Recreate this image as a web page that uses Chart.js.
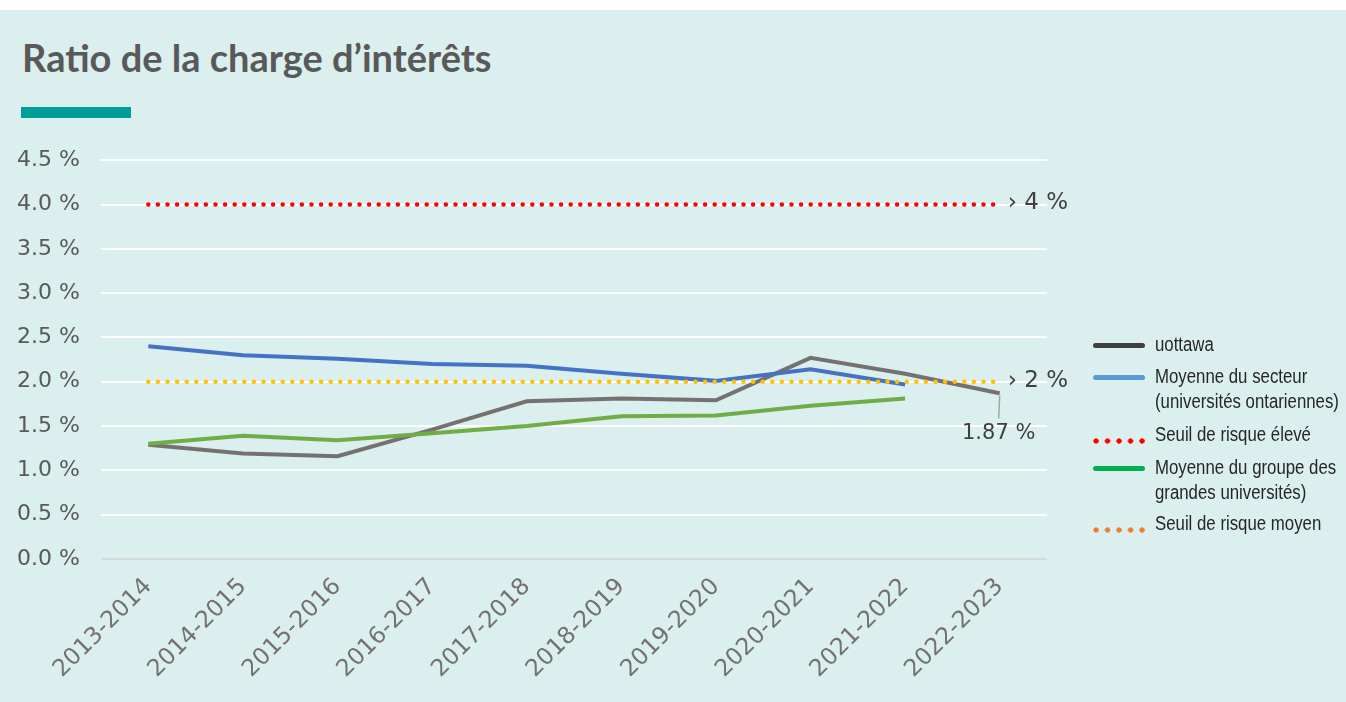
<!DOCTYPE html>
<html lang="fr">
<head>
<meta charset="utf-8">
<title>Ratio de la charge d'intérêts</title>
<script src="https://cdn.jsdelivr.net/npm/chart.js@4.4.1/dist/chart.umd.min.js"></script>
<style>
  html, body { margin: 0; padding: 0; background: #ffffff; overflow: hidden; }
  #panel {
    position: absolute; left: 0; top: 10px; width: 1346px; height: 692px;
    background: #daefee; overflow: hidden;
  }
  #title {
    position: absolute; left: 22px; top: 28px; margin: 0; line-height: 1;
    font-family: Lato, "Open Sans", sans-serif; font-weight: 700; font-size: 38px;
    color: #595959; white-space: nowrap;
  }
  #bar { position: absolute; left: 21px; top: 97px; width: 110px; height: 11px; background: #009e96; }
  #chart { position: absolute; left: 0; top: 116px; }
  .leg { position: absolute; left: 1155px; font-family: "Liberation Sans", Arial, sans-serif;
         font-size: 20px; line-height: 25px; color: #262626; white-space: nowrap;
         transform: scaleX(0.84); transform-origin: 0 0; }
  .sym { position: absolute; left: 1093px; width: 52px; }
  .solid { height: 5px; border-radius: 3px; }
  .dots { height: 6px; background-repeat: repeat-x; background-size: 11.5px 6px; }
</style>
</head>
<body>
<div id="panel">
  <h1 id="title">Ratio de la charge d’intérêts</h1>
  <div id="bar"></div>
  <canvas id="chart" width="1346" height="576"></canvas>
  <div id="legend"></div>
</div>
<script>
// categories and series
var years = ['2013-2014', '2014-2015', '2015-2016', '2016-2017', '2017-2018',
             '2018-2019', '2019-2020', '2020-2021', '2021-2022', '2022-2023'];
var uottawa = [1.29, 1.19, 1.16, 1.46, 1.78, 1.81, 1.79, 2.27, 2.09, 1.87];
var secteur = [2.40, 2.30, 2.26, 2.20, 2.18, 2.09, 2.01, 2.14, 1.97, null];
var grandes = [1.30, 1.39, 1.34, 1.42, 1.50, 1.61, 1.62, 1.73, 1.81, null];
var seuilEleve = [4, 4, 4, 4, 4, 4, 4, 4, 4, 4];
var seuilMoyen = [2, 2, 2, 2, 2, 2, 2, 2, 2, 2];
var yTicks = { min: 0, max: 4.5, step: 0.5 };
var thresholdLabels = [{ value: 4, text: '› 4 %' }, { value: 2, text: '› 2 %' }];
var lastLabel = '1.87 %';

var legendItems = [
    { text: 'uottawa', color: '#404040', dotted: false, top: 332 },
    { text: 'Moyenne du secteur<br>(universités ontariennes)', color: '#5b9bd5', dotted: false, top: 364 },
    { text: 'Seuil de risque élevé', color: '#ff0000', dotted: true, top: 422 },
    { text: 'Moyenne du groupe des<br>grandes universités)', color: '#00b050', dotted: false, top: 455 },
    { text: 'Seuil de risque moyen', color: '#ed7d31', dotted: true, top: 511 }
];

var tickFont = { family: '"DejaVu Sans", sans-serif', size: 22 };
var xFont = { family: '"DejaVu Sans", sans-serif', size: 23.5 };

// legend built by hand, like the original
var leg = document.getElementById('legend');
legendItems.forEach(function (d) {
    var t = document.createElement('div');
    t.className = 'leg';
    t.style.top = (d.top - 10) + 'px';
    t.innerHTML = d.text;
    leg.appendChild(t);
    var s = document.createElement('div');
    s.className = 'sym ' + (d.dotted ? 'dots' : 'solid');
    var cy = d.top - 10 + (d.dotted ? 19 : 14);
    s.style.top = (cy - 3) + 'px';
    if (d.dotted) {
        s.style.backgroundImage = 'radial-gradient(circle at 3px 3px, ' + d.color + ' 2.4px, transparent 2.9px)';
    } else {
        s.style.background = d.color;
    }
    leg.appendChild(s);
});

var annotations = {
    id: 'annotations',
    afterDatasetsDraw: function (chart) {
        var ctx = chart.ctx;
        var x = chart.scales.x, y = chart.scales.y;
        var lastX = x.getPixelForValue(years.length - 1);
        ctx.save();
        ctx.fillStyle = '#404040';
        ctx.font = '23px "DejaVu Sans", sans-serif';
        ctx.textBaseline = 'middle';
        ctx.textAlign = 'left';
        thresholdLabels.forEach(function (d) {
            ctx.fillText(d.text, lastX + 8, y.getPixelForValue(d.value) - 1);
        });
        // leader line + last value label
        var py = y.getPixelForValue(uottawa[uottawa.length - 1]);
        ctx.strokeStyle = '#a6a6a6';
        ctx.lineWidth = 1.5;
        ctx.beginPath();
        ctx.moveTo(lastX, py + 2);
        ctx.lineTo(lastX - 1, py + 25);
        ctx.stroke();
        ctx.font = '21px "DejaVu Sans", sans-serif';
        ctx.textAlign = 'center';
        ctx.fillText(lastLabel, lastX - 1, py + 40);
        ctx.restore();
    }
};

var chart = new Chart('chart', {
    type: 'line',
    plugins: [annotations],
    data: {
        labels: years,
        datasets: [
            { label: 'Seuil de risque moyen', data: seuilMoyen, borderColor: '#ffc000', borderWidth: 4.5,
              borderDash: [0, 9.6], borderCapStyle: 'round', pointRadius: 0 },
            { label: 'Seuil de risque élevé', data: seuilEleve, borderColor: '#ff0000', borderWidth: 4.5,
              borderDash: [0, 9.6], borderCapStyle: 'round', pointRadius: 0 },
            { label: 'Moyenne du groupe des grandes universités', data: grandes, borderColor: '#70ad47',
              borderWidth: 4, pointRadius: 0 },
            { label: 'Moyenne du secteur (universités ontariennes)', data: secteur, borderColor: '#4472c4',
              borderWidth: 4, pointRadius: 0 },
            { label: 'uottawa', data: uottawa, borderColor: '#767171', borderWidth: 4, pointRadius: 0 }
        ]
    },
    options: {
        responsive: false,
        devicePixelRatio: 1,
        animation: false,
        layout: { padding: { top: 15, right: 299, left: 0, bottom: 0 } },
        plugins: { legend: { display: false }, tooltip: { enabled: false } },
        scales: {
            x: {
                offset: true,
                grid: { display: false },
                border: { display: false },
                ticks: { color: '#767171', font: xFont, maxRotation: 45, minRotation: 45,
                         autoSkip: false, padding: 6 },
                afterFit: function (s) { s.height = 143; }
            },
            y: {
                min: yTicks.min, max: yTicks.max,
                border: { display: false },
                grid: {
                    drawTicks: false, lineWidth: 2,
                    color: function (c) { return c.tick.value === 0 ? '#d3dada' : '#ffffff'; }
                },
                ticks: {
                    stepSize: yTicks.step, padding: 21, color: '#595959', font: tickFont,
                    callback: function (v) { return v.toFixed(1) + ' %'; }
                },
                afterFit: function (s) { s.width = 101; }
            }
        }
    }
});
</script>
</body>
</html>
